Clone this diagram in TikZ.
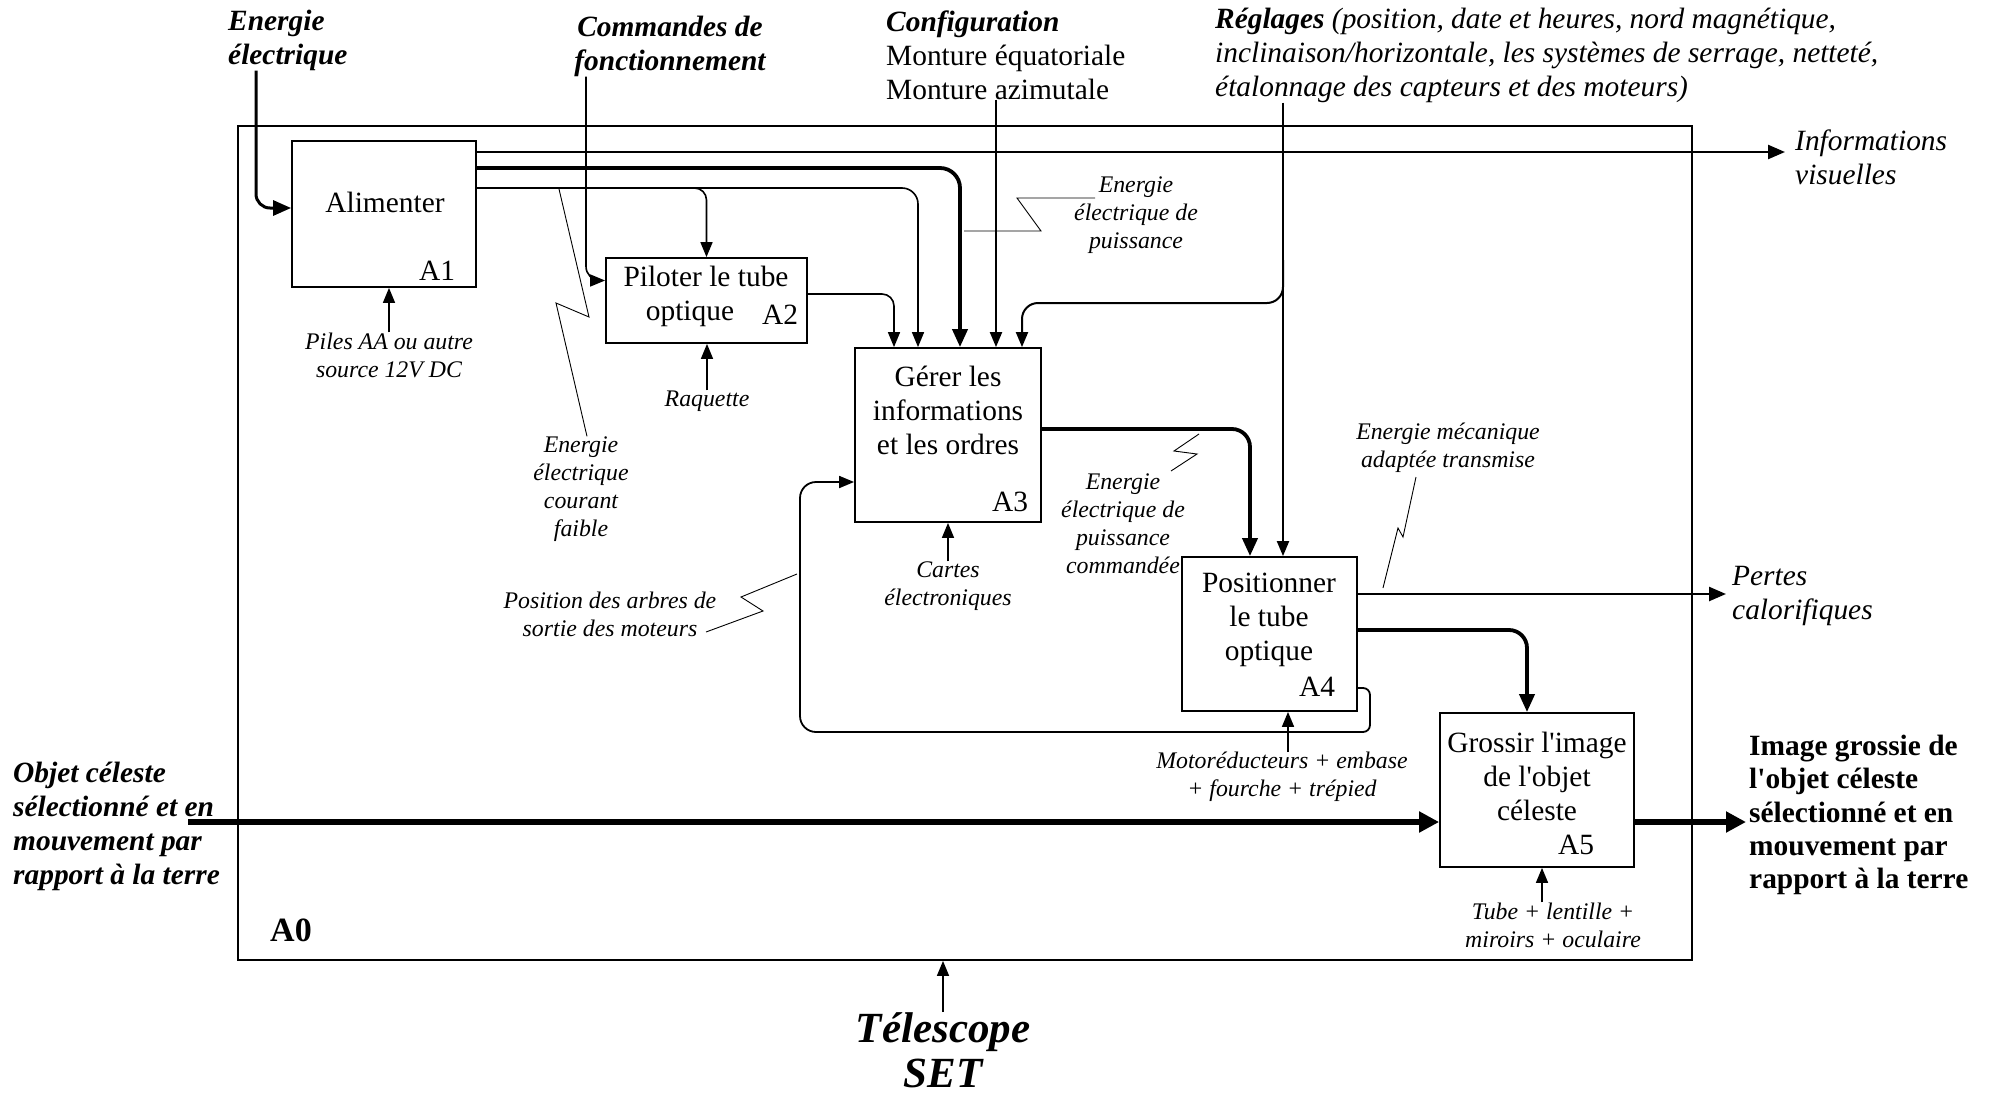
\documentclass[tikz,border=0pt]{standalone}
\usepackage{fontspec}
\setmainfont{Liberation Serif}
\usetikzlibrary{arrows.meta}
\newcommand{\bigtxt}{\fontsize{29.4}{34}\selectfont}
\newcommand{\smalltxt}{\fontsize{23.8}{28}\selectfont\itshape}

\begin{document}
\begin{tikzpicture}[x=1pt,y=-1pt,
  fbox/.style={draw,line width=1.8pt,inner sep=0pt},
  btxt/.style={font=\bigtxt,align=center,inner sep=0pt},
  hdr/.style={font=\bigtxt\bfseries\itshape,inner sep=0pt},
  stxt/.style={font=\smalltxt,align=center,inner sep=0pt},
  thinarr/.style={line width=1.6pt,-{Triangle[length=15pt,width=12pt]}},
  medarr/.style={line width=2.4pt,-{Triangle[length=17pt,width=14pt]}},
  thickarr/.style={line width=3.8pt,-{Triangle[length=18pt,width=15pt]}},
  heavyarr/.style={line width=6pt,-{Triangle[length=20pt,width=20pt]}},
  leader/.style={line width=0.9pt}]
\useasboundingbox (0,0) rectangle (1990,1098);

% cadre A0 et boites
\node[fbox,minimum width=1454pt,minimum height=834pt] (a0) at (965,543) {};
\node[font=\fontsize{34}{40}\selectfont\bfseries,inner sep=0pt] (a0num) at (291,930) {A0};
\node[fbox,minimum width=184pt,minimum height=146pt] (a1) at (384,214) {};
\node[fbox,minimum width=201pt,minimum height=85pt] (a2) at (706.5,300.5) {};
\node[fbox,minimum width=186pt,minimum height=174pt] (a3) at (948,435) {};
\node[fbox,minimum width=175pt,minimum height=154pt] (a4) at (1269.5,634) {};
\node[fbox,minimum width=194pt,minimum height=154pt] (a5) at (1537,790) {};

\node[btxt] (a1t) at (385,202) {Alimenter};
\node[btxt] (a2t) at (706,296) {Piloter le tube\\optique\hspace*{32pt}};
\node[btxt] (a3t) at (948,410) {Gérer les\\informations\\et les ordres};
\node[btxt] (a4t) at (1269,620) {Positionner\\le tube\\optique};
\node[btxt] (a5t) at (1537,776) {Grossir l\textquotesingle image\\de l\textquotesingle objet\\céleste};
\node[btxt] (a1n) at (437,271) {A1};
\node[btxt] (a2n) at (780,315) {A2};
\node[btxt] (a3n) at (1010,502) {A3};
\node[btxt] (a4n) at (1317,687) {A4};
\node[btxt] (a5n) at (1576,845) {A5};

% entrees, sorties, controles
\node[hdr,align=left,anchor=west] (enel) at (228,40) {Energie\\électrique};
\node[hdr,align=center] (cmd) at (670,46) {Commandes de\\fonctionnement};
\node[btxt,align=left,anchor=west] (cfg) at (886,55) {\textbf{\textit{Configuration}}\\Monture équatoriale\\Monture azimutale};
\node[btxt,font=\bigtxt\itshape,align=left,anchor=west] (regl) at (1215,55) {\textbf{Réglages} (position, date et heures, nord magnétique,\\inclinaison/horizontale, les systèmes de serrage, netteté,\\étalonnage des capteurs et des moteurs)};
\node[btxt,font=\bigtxt\itshape,align=left,anchor=west] (ivis) at (1795,157) {Informations\\visuelles};
\node[btxt,font=\bigtxt\itshape,align=left,anchor=west] (pcal) at (1732,596) {Pertes\\calorifiques};
\node[hdr,align=left,anchor=west] (objin) at (13,826) {Objet céleste\\sélectionné et en\\mouvement par\\rapport à la terre};
\node[font=\fontsize{29.4}{33.3}\selectfont\bfseries,align=left,anchor=west,inner sep=0pt] (imgout) at (1749,815) {Image grossie de\\l\textquotesingle objet céleste\\sélectionné et en\\mouvement par\\rapport à la terre};
\node[font=\fontsize{43}{45}\selectfont\bfseries\itshape,align=center,inner sep=0pt] (telesc) at (943,1050) {Télescope\\SET};

% supports et commentaires
\node[stxt] (piles) at (389,355) {Piles AA ou autre\\source 12V DC};
\node[stxt] (raq) at (707,401) {Raquette};
\node[stxt] (cartes) at (948,586) {Cartes\\électroniques};
\node[stxt] (moto) at (1282,777) {Motoréducteurs + embase\\+ fourche + trépied};
\node[stxt] (tube) at (1553,925) {Tube + lentille +\\miroirs + oculaire};
\node[stxt] (eecf) at (581,489) {Energie\\électrique\\courant\\faible};
\node[stxt] (eep) at (1136,215) {Energie\\électrique de\\puissance};
\node[stxt] (eepc) at (1123,524) {Energie\\électrique de\\puissance\\commandée};
\node[stxt] (emat) at (1448,448) {Energie mécanique\\adaptée transmise};
\node[stxt] (posarb) at (610,614) {Position des arbres de\\sortie des moteurs};

% fleches du haut
\draw[thickarr,line width=3pt,rounded corners=14pt] (enel.south -| 256,0) |- ([yshift=6pt]a1.west);
\draw[thinarr,rounded corners=14pt] (cmd.south -| 586,0) |- ([yshift=20pt]a2.west);
\draw[thinarr,line width=2pt] (cfg.south -| 996,0) -- (996,0 |- a3.north);
\draw[thinarr,line width=2pt] (regl.south -| 1283,0) -- (1283,0 |- a4.north);
\draw[thinarr,line width=2pt,rounded corners=16pt] (1283,260) -- (1283,303) -- (1022,303) -- (1022,0 |- a3.north);

% sorties de A1, A2, A3
\draw[medarr] (a1.east |- 0,152) -- (1785,152);
\draw[thickarr,rounded corners=20pt] (a1.east |- 0,168) -| (960,0 |- a3.north);
\draw[thinarr,rounded corners=16pt] (a1.east |- 0,188) -| (918,0 |- a3.north);
\draw[thinarr,rounded corners=12pt] (680,188) -| (a2.north);
\draw[thinarr,rounded corners=12pt] (a2.east |- 0,294) -| (894,0 |- a3.north);
\draw[thickarr,rounded corners=18pt] (a3.east |- 0,429) -| (1250,0 |- a4.north);

% sorties de A4, boucle
\draw[medarr] (a4.east |- 0,594) -- (1726,594);
\draw[thickarr,rounded corners=18pt] (a4.east |- 0,630) -| (1527,0 |- a5.north);
\draw[thinarr,line width=1.8pt] (a4.east |- 0,688) [rounded corners=7pt] -| (1370,732) [rounded corners=16pt] -| (800,482) -- (a3.west |- 0,482);

% flux principal
\draw[heavyarr] (188,822) -- (a5.west |- 0,822);
\draw[heavyarr] (a5.east |- 0,822) -- (1746,822);

% mecanismes
\draw[thinarr] (piles.north) -- (piles.north |- a1.south);
\draw[thinarr] (raq.north) -- (raq.north |- a2.south);
\draw[thinarr] (cartes.north) -- (cartes.north |- a3.south);
\draw[thinarr] (moto.north -| 1288,0) -- (1288,0 |- a4.south);
\draw[thinarr] (tube.north -| 1542,0) -- (1542,0 |- a5.south);
\draw[thinarr] (telesc.north) -- (a0.south -| telesc.north);

% traits de renvoi
\draw[leader] (559,189) -- (589,317) -- (556,303) -- (eecf.north -| 587,0);
\draw[leader] (1095,198) -- (1017,198) -- (1041,231) -- (964,231);
\draw[leader] (1171,471) -- (1197,454) -- (1174,451) -- (1199,434);
\draw[leader] (1416,477) -- (1403,537) -- (1398,528) -- (1383,588);
\draw[leader] (706,632) -- (763,611) -- (741,597) -- (797,574);
\end{tikzpicture}
\end{document}
